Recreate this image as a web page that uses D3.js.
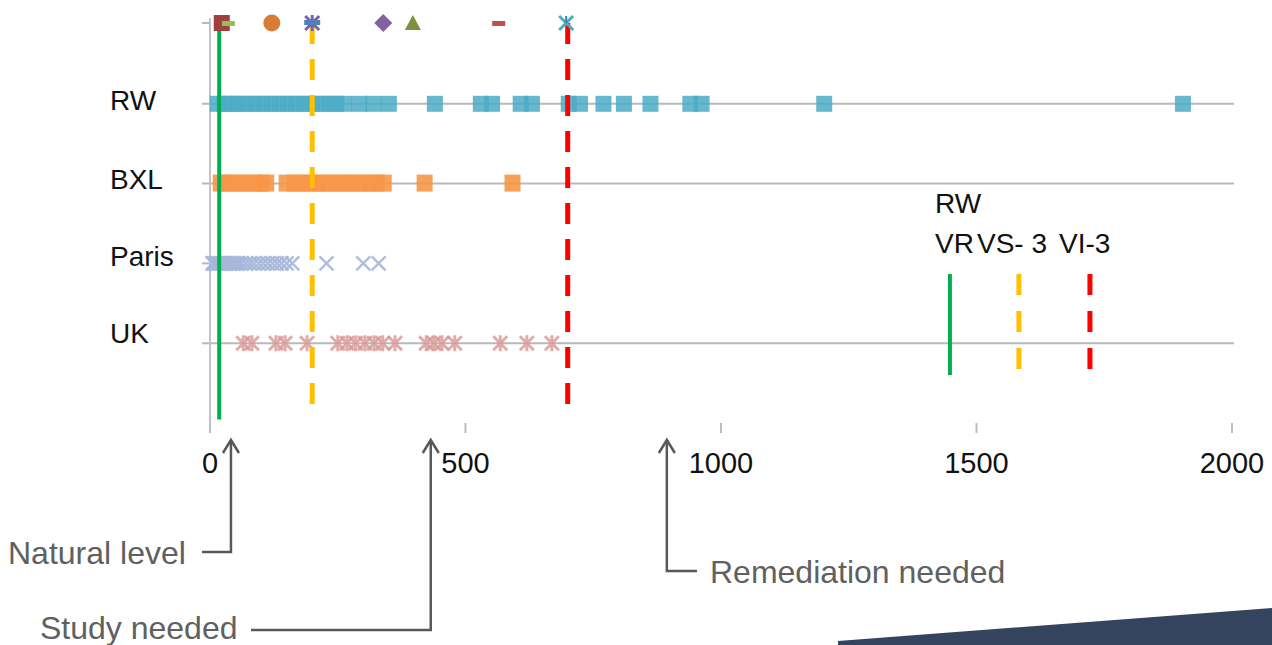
<!DOCTYPE html>
<html>
<head>
<meta charset="utf-8">
<script src="https://cdn.jsdelivr.net/npm/d3@7"></script>
<style>
  body { margin: 0; background: #fff; }
  svg { display: block; }
</style>
</head>
<body>
<div id="chart"></div>
<script>
// Rows (category levels on the vertical axis)
const rowNames = ["RW", "BXL", "Paris", "UK"];
const rowLevels = [4, 3, 2, 1];
const gridRows = ["RW", "BXL", "UK"];

// Measured values per site
const rwValues = [15, 28, 42, 56, 72, 88, 104, 120, 136, 152, 168, 184, 200, 216, 232, 247, 262,
    292, 320, 350, 440, 530, 552, 608, 630, 702, 724, 770, 810, 862, 940, 962, 1202, 1904];
const bxlValues = [21, 36, 52, 68, 84, 100, 110, 150, 166, 182, 198, 214, 230, 246, 262, 278,
    294, 310, 326, 340, 420, 592];
const parisValues = [5, 8, 11, 14, 17, 20, 23, 26, 29, 32, 36, 40, 44, 48, 52, 56, 62, 70, 78,
    86, 95, 104, 113, 122, 131, 140, 150, 161, 228, 300, 330];
const ukValues = [65, 82, 129, 147, 190, 250, 268, 285, 303, 321, 338, 362, 423, 438, 454, 479,
    568, 620, 669];

// Threshold series markers on the top row
const topValues = [23, 35, 121, 200, 339, 397, 564, 697];
const topSymbols = ["square", "dash", "circle", "star", "diamond", "triangle", "dash", "x"];
const topColors = ["#a0403c", "#9bbb59", "#d97c35", "#7a62a8", "#8064a2", "#77933c", "#c0504d", "#4bacc6"];

// Threshold lines
const thresholdValues = [18, 200, 700];
const thresholdColors = ["#00b050", "#ffc000", "#ff0000"];
const thresholdDashed = [false, true, true];

// RW legend lines (VR / VS-3 / VI-3)
const legendValues = [1448, 1583, 1722];

const xTicks = [0, 500, 1000, 1500, 2000];

// Annotations: label, value pointed at
const annotLabels = ["Natural level", "Study needed", "Remediation needed"];
const annotValues = [41, 432, 894];

const width = 1272, height = 645;
const svg = d3.select("#chart").append("svg")
    .attr("width", width)
    .attr("height", height);

const x = d3.scaleLinear().domain([0, 2000]).range([210, 1232]);
const y = d3.scaleLinear().domain([0, 5]).range([422, 23]);

const font = "'Liberation Sans', Arial, sans-serif";

// Background decoration (dark band bottom right)
svg.append("path")
    .attr("d", "M838,645 L838,641 L1272,608 L1272,645 Z")
    .attr("fill", "#34445f");

// Gridlines and category ticks
svg.append("g")
    .selectAll("line")
    .data(rowNames)
    .join("line")
    .attr("x1", 202)
    .attr("x2", d => gridRows.includes(d) ? 1234 : 210)
    .attr("y1", (d, i) => y(rowLevels[i]) + 1)
    .attr("y2", (d, i) => y(rowLevels[i]) + 1)
    .attr("stroke", "#b9b9b9")
    .attr("stroke-width", 2);

svg.append("line")
    .attr("x1", 202).attr("x2", 210)
    .attr("y1", y(5)).attr("y2", y(5))
    .attr("stroke", "#b9b9b9").attr("stroke-width", 2);

// Vertical axis
svg.append("line")
    .attr("x1", 210).attr("x2", 210)
    .attr("y1", 18).attr("y2", 433)
    .attr("stroke", "#c4c4c4")
    .attr("stroke-width", 2);

// x axis ticks and labels
const xAxis = svg.append("g");
xAxis.selectAll("line")
    .data(xTicks)
    .join("line")
    .attr("x1", d => x(d)).attr("x2", d => x(d))
    .attr("y1", 423).attr("y2", 433)
    .attr("stroke", "#bdbdbd")
    .attr("stroke-width", 2);
xAxis.selectAll("text")
    .data(xTicks)
    .join("text")
    .attr("x", d => x(d))
    .attr("y", 473)
    .attr("text-anchor", "middle")
    .attr("font-family", font)
    .attr("font-size", 29)
    .attr("fill", "#111")
    .text(d => d);

// Row labels
svg.append("g")
    .selectAll("text")
    .data(rowNames)
    .join("text")
    .attr("x", 110)
    .attr("y", (d, i) => [110, 189, 266, 343][i])
    .attr("font-family", font)
    .attr("font-size", 28)
    .attr("fill", "#111")
    .text(d => d);

// Data markers
const g = svg.append("g");

g.selectAll("rect.rw")
    .data(rwValues)
    .join("rect")
    .attr("class", "rw")
    .attr("x", d => x(d) - 8)
    .attr("y", y(4) - 7)
    .attr("width", 16)
    .attr("height", 16)
    .attr("fill", "#4bacc6")
    .attr("fill-opacity", 0.85);

g.selectAll("rect.bxl")
    .data(bxlValues)
    .join("rect")
    .attr("class", "bxl")
    .attr("x", d => x(d) - 8)
    .attr("y", y(3) - 8)
    .attr("width", 16)
    .attr("height", 17)
    .attr("fill", "#f79646")
    .attr("fill-opacity", 0.9);

const cross = d3.path();
cross.moveTo(-7, -7); cross.lineTo(7, 7);
cross.moveTo(7, -7); cross.lineTo(-7, 7);

g.selectAll("path.paris")
    .data(parisValues)
    .join("path")
    .attr("class", "paris")
    .attr("transform", d => `translate(${x(d)},${y(2) + 1})`)
    .attr("d", cross.toString())
    .attr("fill", "none")
    .attr("stroke", "#a7b7d9")
    .attr("stroke-width", 2.5)
    .attr("stroke-opacity", 0.9);

const aster = d3.path();
aster.moveTo(-7, -7); aster.lineTo(7, 7);
aster.moveTo(7, -7); aster.lineTo(-7, 7);
aster.moveTo(0, -8); aster.lineTo(0, 8);

g.selectAll("path.uk")
    .data(ukValues)
    .join("path")
    .attr("class", "uk")
    .attr("transform", d => `translate(${x(d)},${y(1) + 1})`)
    .attr("d", aster.toString())
    .attr("fill", "none")
    .attr("stroke", "#d99694")
    .attr("stroke-width", 3)
    .attr("stroke-opacity", 0.8);

// Threshold lines
g.selectAll("line.thr")
    .data(thresholdValues)
    .join("line")
    .attr("class", "thr")
    .attr("x1", d => x(d)).attr("x2", d => x(d))
    .attr("y1", y(5))
    .attr("y2", (d, i) => thresholdDashed[i] ? y(0.21) : y(0.03))
    .attr("stroke", (d, i) => thresholdColors[i])
    .attr("stroke-width", (d, i) => thresholdDashed[i] ? 5 : 4)
    .attr("stroke-dasharray", (d, i) => thresholdDashed[i] ? "21,15" : null);

// Top row markers
function topMarker(sel, sym, color) {
    if (sym === "square") {
        sel.append("rect").attr("x", -8).attr("y", -8).attr("width", 16).attr("height", 16).attr("fill", color);
    } else if (sym === "dash") {
        sel.append("rect").attr("x", -6).attr("y", -2).attr("width", 13).attr("height", 5).attr("fill", color);
    } else if (sym === "circle") {
        sel.append("circle").attr("r", 8.5).attr("fill", color);
    } else if (sym === "diamond") {
        sel.append("path").attr("d", "M0,-9 L9,0 L0,9 L-9,0 Z").attr("fill", color);
    } else if (sym === "triangle") {
        sel.append("path").attr("d", "M0,-8 L8,7 L-8,7 Z").attr("fill", color);
    } else if (sym === "star") {
        sel.append("path").attr("d", aster.toString()).attr("stroke", color).attr("stroke-width", 3).attr("fill", "none");
        sel.append("rect").attr("x", -8).attr("y", -3).attr("width", 16).attr("height", 5).attr("fill", "#4f81bd");
    } else if (sym === "x") {
        sel.append("path").attr("d", cross.toString()).attr("stroke", color).attr("stroke-width", 3).attr("fill", "none");
        sel.append("line").attr("x1", 0).attr("x2", 0).attr("y1", -7).attr("y2", 0).attr("stroke", "#31859c").attr("stroke-width", 2);
    }
}

topValues.forEach((v, i) => {
    const m = svg.append("g").attr("transform", `translate(${x(v)},${y(5)})`);
    topMarker(m, topSymbols[i], topColors[i]);
});

// RW legend block
svg.append("text")
    .attr("x", 935).attr("y", 213)
    .attr("font-family", font).attr("font-size", 28).attr("fill", "#111")
    .text("RW");
[["VR", 935], ["VS- 3", 977], ["VI-3", 1059]].forEach(t => {
    svg.append("text")
        .attr("x", t[1]).attr("y", 253)
        .attr("font-family", font).attr("font-size", 28).attr("fill", "#111")
        .text(t[0]);
});
svg.append("g")
    .selectAll("line")
    .data(legendValues)
    .join("line")
    .attr("x1", d => x(d)).attr("x2", d => x(d))
    .attr("y1", 274)
    .attr("y2", (d, i) => thresholdDashed[i] ? 369 : 375)
    .attr("stroke", (d, i) => thresholdColors[i])
    .attr("stroke-width", (d, i) => thresholdDashed[i] ? 5 : 4)
    .attr("stroke-dasharray", (d, i) => thresholdDashed[i] ? "21,16" : null);

// Annotations with arrows
const annotText = [
    { x: 8, y: 564, lineY: 552, from: 202 },
    { x: 40, y: 639, lineY: 630, from: 251 },
    { x: 710, y: 583, lineY: 571, from: 697 }
];
const ann = svg.append("g");
annotLabels.forEach((label, i) => {
    const ax = x(annotValues[i]);
    const a = annotText[i];
    ann.append("text")
        .attr("x", a.x).attr("y", a.y)
        .attr("font-family", font)
        .attr("font-size", 32)
        .attr("fill", "#606060")
        .text(label);
    ann.append("path")
        .attr("d", `M${a.from},${a.lineY} L${ax},${a.lineY} L${ax},440`)
        .attr("fill", "none")
        .attr("stroke", "#595959")
        .attr("stroke-width", 2.5);
    ann.append("path")
        .attr("d", `M${ax - 8},453 L${ax},440 L${ax + 8},453`)
        .attr("fill", "none")
        .attr("stroke", "#595959")
        .attr("stroke-width", 2.5);
});
</script>
</body>
</html>
